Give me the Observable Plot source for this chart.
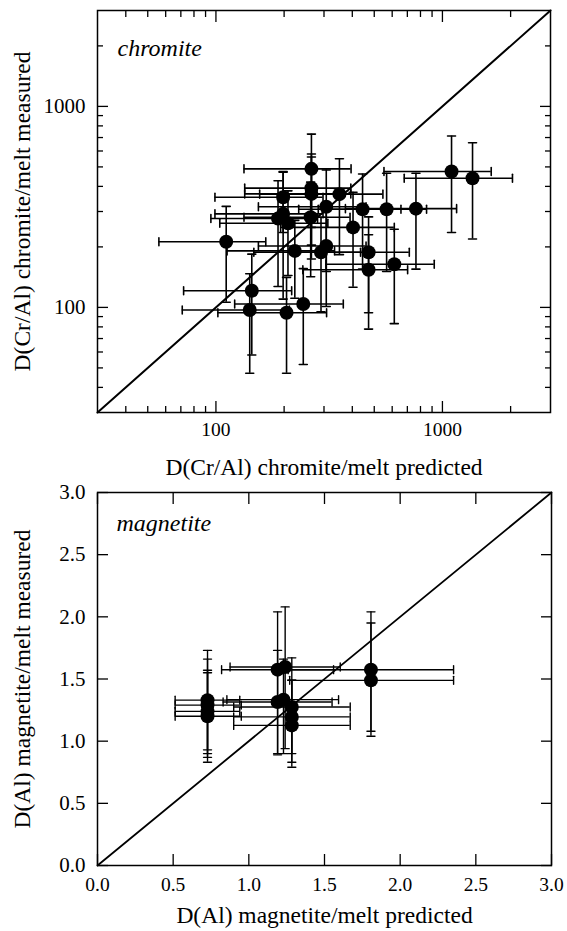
<!DOCTYPE html>
<html>
<head>
<meta charset="utf-8">
<script src="https://cdn.jsdelivr.net/npm/d3@7"></script>
<script src="https://cdn.jsdelivr.net/npm/@observablehq/plot@0.6"></script>
<style>
  html, body { margin: 0; padding: 0; background: #fff; }
  #chart { width: 567px; height: 931px; }
  #chart svg { display: block; }
  #chart svg, #chart svg text { font-family: "Liberation Serif", "DejaVu Serif", serif !important; }
</style>
</head>
<body>
<div id="chart"></div>
<script>
// ---------- Panel 1: chromite (log-log) ----------
const crDomain = [30, 3000];
const crPred    = [111,144,141,205,243,223,291,307,307,264,264,264,351,198,198,188,208,262,444,567,764,403,472,472,613,1097,1358];
const crPredErr = [55,72,70,103,122,111,144,153,153,131,130,130,195,99,99,93,104,129,212,284,391,210,242,230,307,545,680];
const crMeas    = [212,121,97,94,104,191,188,202,317,489,392,367,366,353,292,277,262,281,308,308,310,250,188,154,164,474,439];
const crMeasErr = [106,63,50,47,52,80,93,101,166,239,188,193,183,117,182,150,118,139,153,157,155,124,94,76,81,238,220];
const logMajor = [100, 1000];
const logMinor = [40,50,60,70,80,90,200,300,400,500,600,700,800,900,2000];

// ---------- Panel 2: magnetite (linear) ----------
const mtDomain = [0, 3];
const mtPred   = [0.727,0.727,0.727,0.727,1.19,1.24,1.19,1.229,1.284,1.284,1.284,1.807,1.807];
const mtPredLo = [0.513,0.513,0.513,0.513,0.82,0.876,0.83,0.855,0.90,0.90,0.90,1.26,1.27];
const mtPredHi = [0.94,0.95,0.94,0.95,1.56,1.604,1.55,1.593,1.67,1.67,1.67,2.353,2.353];
const mtMeas   = [1.33,1.29,1.24,1.20,1.575,1.597,1.315,1.334,1.275,1.195,1.127,1.575,1.489];
const mtMeasLo = [0.93,0.90,0.87,0.83,0.90,0.94,0.89,0.90,0.90,0.83,0.79,1.08,1.04];
const mtMeasHi = [1.73,1.66,1.57,1.55,2.04,2.08,1.73,1.66,1.67,1.49,1.49,2.04,1.95];
const linTicks = [0, 0.5, 1, 1.5, 2, 2.5, 3];

const labels = {
  crX: "D(Cr/Al) chromite/melt predicted",
  crY: "D(Cr/Al) chromite/melt measured",
  crTag: "chromite",
  mtX: "D(Al) magnetite/melt predicted",
  mtY: "D(Al) magnetite/melt measured",
  mtTag: "magnetite"
};

const font = "Liberation Serif";
const cap = { draw(c, l) { c.moveTo(0, 0); c.lineTo(0, -l); } };

const cr = crPred.map((x, i) => ({
  x, y: crMeas[i],
  x1: x - crPredErr[i], x2: x + crPredErr[i],
  y1: crMeas[i] - crMeasErr[i], y2: crMeas[i] + crMeasErr[i]
}));
const mt = mtPred.map((x, i) => ({
  x, y: mtMeas[i],
  x1: mtPredLo[i], x2: mtPredHi[i],
  y1: mtMeasLo[i], y2: mtMeasHi[i]
}));

function errorMarks(data, sw, capLen) {
  const o = { stroke: "black", strokeWidth: sw };
  return [
    Plot.ruleY(data, { y: "y", x1: "x1", x2: "x2", ...o }),
    Plot.ruleX(data, { x: "x", y1: "y1", y2: "y2", ...o }),
    Plot.vector(data, { x: "x1", y: "y", length: capLen, rotate: 0, anchor: "middle", shape: cap, ...o }),
    Plot.vector(data, { x: "x2", y: "y", length: capLen, rotate: 0, anchor: "middle", shape: cap, ...o }),
    Plot.vector(data, { x: "x", y: "y1", length: capLen, rotate: 90, anchor: "middle", shape: cap, ...o }),
    Plot.vector(data, { x: "x", y: "y2", length: capLen, rotate: 90, anchor: "middle", shape: cap, ...o })
  ];
}

function axes(major, minor, fmt, gapX, gapY) {
  const m = [];
  const base = { stroke: "black", strokeWidth: 1.3, label: null, fill: "black", fontFamily: font };
  m.push(Plot.axisX({ anchor: "bottom", ticks: major, tickSize: -11, tickPadding: 11 + gapX, tickFormat: fmt, fontSize: 19.5, ...base }));
  m.push(Plot.axisY({ anchor: "left", ticks: major, tickSize: -11, tickPadding: 11 + gapY, tickFormat: fmt, fontSize: 21, ...base }));
  m.push(Plot.axisX({ anchor: "top", ticks: major, tickSize: -11, tickFormat: () => "", ...base }));
  m.push(Plot.axisY({ anchor: "right", ticks: major, tickSize: -11, tickFormat: () => "", ...base }));
  if (minor) {
    for (const a of ["bottom", "top"]) m.push(Plot.axisX({ anchor: a, ticks: minor, tickSize: -6, tickFormat: () => "", ...base }));
    for (const a of ["left", "right"]) m.push(Plot.axisY({ anchor: a, ticks: minor, tickSize: -6, tickFormat: () => "", ...base }));
  }
  return m;
}

const topPlot = Plot.plot({
  width: 567, height: 480,
  marginTop: 10, marginBottom: 68, marginLeft: 97, marginRight: 17,
  style: { fontFamily: font, color: "black", background: "white", overflow: "visible" },
  x: { type: "log", domain: crDomain },
  y: { type: "log", domain: crDomain },
  marks: [
    Plot.line(crDomain, { x: d => d, y: d => d, stroke: "black", strokeWidth: 2 }),
    ...errorMarks(cr, 1.6, 8),
    Plot.dot(cr, { x: "x", y: "y", r: 7, fill: "black", stroke: "none" }),
    Plot.frame({ stroke: "black", strokeWidth: 1.5 }),
    ...axes(logMajor, logMinor, d => String(d), 10, 12),
    Plot.text([labels.crTag], { frameAnchor: "top-left", dx: 20, dy: 38, textAnchor: "start", lineAnchor: "middle", fontStyle: "italic", fontSize: 24, fill: "black", fontFamily: font }),
    Plot.text([labels.crX], { frameAnchor: "bottom", dy: 55, textAnchor: "middle", lineAnchor: "middle", fontSize: 23.5, fill: "black", fontFamily: font }),
    Plot.text([labels.crY], { frameAnchor: "left", dx: -75, rotate: -90, textAnchor: "middle", lineAnchor: "middle", fontSize: 23.5, fill: "black", fontFamily: font })
  ]
});

const botPlot = Plot.plot({
  width: 567, height: 451,
  marginTop: 12, marginBottom: 66, marginLeft: 97, marginRight: 16,
  style: { fontFamily: font, color: "black", background: "white", overflow: "visible" },
  x: { type: "linear", domain: mtDomain },
  y: { type: "linear", domain: mtDomain },
  marks: [
    Plot.line(mtDomain, { x: d => d, y: d => d, stroke: "black", strokeWidth: 1.8 }),
    ...errorMarks(mt, 1.4, 8),
    Plot.dot(mt, { x: "x", y: "y", r: 7, fill: "black", stroke: "none" }),
    Plot.frame({ stroke: "black", strokeWidth: 1.5 }),
    ...axes(linTicks, null, d3.format(".1f"), 12, 12),
    Plot.text([labels.mtTag], { frameAnchor: "top-left", dx: 19, dy: 31, textAnchor: "start", lineAnchor: "middle", fontStyle: "italic", fontSize: 24, fill: "black", fontFamily: font }),
    Plot.text([labels.mtX], { frameAnchor: "bottom", dy: 50, textAnchor: "middle", lineAnchor: "middle", fontSize: 23.5, fill: "black", fontFamily: font }),
    Plot.text([labels.mtY], { frameAnchor: "left", dx: -75, rotate: -90, textAnchor: "middle", lineAnchor: "middle", fontSize: 23.5, fill: "black", fontFamily: font })
  ]
});

const chart = document.getElementById("chart");
chart.appendChild(topPlot);
chart.appendChild(botPlot);
</script>
</body>
</html>
